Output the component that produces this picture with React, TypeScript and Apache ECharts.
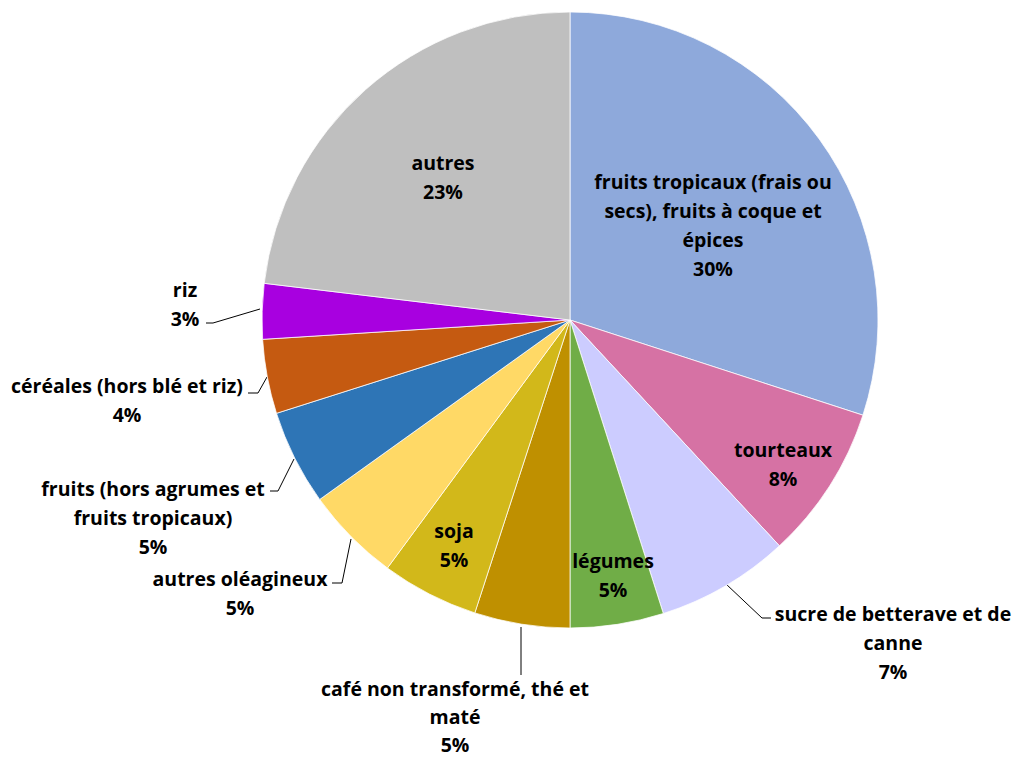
import React, { useEffect, useRef } from "react";
import * as echarts from "echarts";

const categories: string[] = [
  "fruits tropicaux (frais ou\nsecs), fruits à coque et\népices",
  "tourteaux",
  "sucre de betterave et de\ncanne",
  "légumes",
  "café non transformé, thé et\nmaté",
  "soja",
  "autres oléagineux",
  "fruits (hors agrumes et\nfruits tropicaux)",
  "céréales (hors blé et riz)",
  "riz",
  "autres",
];

const shares: number[] = [30.0, 8.1, 7.0, 4.9, 5.0, 5.1, 5.0, 5.0, 3.9, 2.9, 23.1];

const colors: string[] = [
  "#8EA9DB",
  "#D672A4",
  "#CCCCFF",
  "#70AD47",
  "#BF9000",
  "#D2B81A",
  "#FFD966",
  "#2E75B6",
  "#C55A11",
  "#A800E0",
  "#BFBFBF",
];

// label placement (centre of text block) and leader lines, layout only
const labelPos: [number, number][] = [
  [713, 225],
  [783, 464],
  [893, 642],
  [613, 575],
  [455, 716],
  [454, 545],
  [240, 593],
  [153, 517],
  [127, 400],
  [185, 304],
  [443, 177],
];

const leader: (number[][] | null)[] = [
  null,
  null,
  [[726, 584], [762, 618], [771, 618]],
  null,
  [[521, 627], [521, 675], [521, 675]],
  null,
  [[351, 539], [342, 583], [332, 583]],
  [[294, 459], [278, 491], [270, 491]],
  [[267, 377], [258, 393], [248, 393]],
  [[260, 309], [213, 323], [206, 323]],
  null,
];

export default function App() {
  const ref = useRef<HTMLDivElement>(null);
  useEffect(() => {
    if (!ref.current) return;
    const chart = echarts.init(ref.current, undefined, { renderer: "svg" });
    chart.setOption({
      animation: false,
      backgroundColor: "#ffffff",
      series: [
        {
          type: "pie",
          center: [570, 320],
          radius: 308,
          startAngle: 90,
          clockwise: true,
          avoidLabelOverlap: false,
          itemStyle: { borderColor: "#ffffff", borderWidth: 0.75 },
          label: {
            show: true,
            position: "outside",
            formatter: (p: any) => `${p.name}\n${Math.round(p.percent)}%`,
            fontFamily: "Open Sans",
            fontWeight: "bold",
            fontSize: 19.5,
            lineHeight: 29,
            color: "#000000",
            align: "center",
          },
          labelLine: {
            show: true,
            lineStyle: { color: "#000000", width: 1 },
          },
          labelLayout: (params: any) => {
            const i = params.dataIndex;
            const res: any = {
              x: labelPos[i][0],
              y: labelPos[i][1],
              align: "center",
              verticalAlign: "middle",
            };
            if (leader[i]) res.labelLinePoints = leader[i];
            return res;
          },
          data: categories.map((name, i) => ({
            name,
            value: shares[i],
            itemStyle: { color: colors[i] },
            labelLine: { show: leader[i] !== null },
            label: i === 4 ? { lineHeight: 28 } : undefined,
          })),
        },
      ],
    });
    return () => chart.dispose();
  }, []);
  return (
    <div
      ref={ref}
      style={{ position: "fixed", left: 0, top: 0, width: 1017, height: 758 }}
    />
  );
}
